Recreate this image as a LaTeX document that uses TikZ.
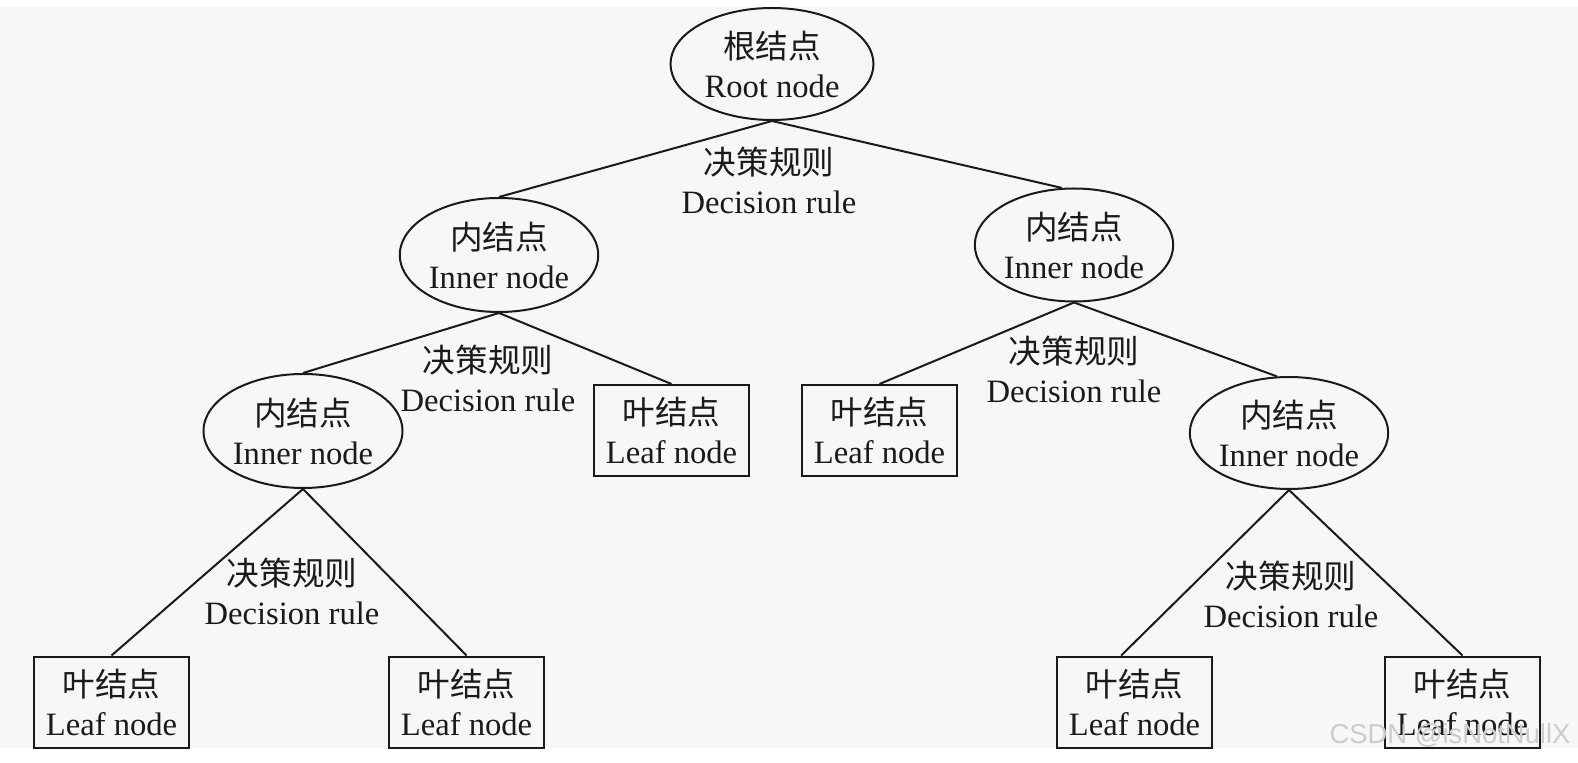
\documentclass[tikz,border=0pt]{standalone}
\usepackage{fontspec}
\setmainfont{Liberation Serif}
\newfontfamily\cjk{Noto Sans CJK SC}
\newfontfamily\wmfont{Liberation Sans}
\usetikzlibrary{shapes.geometric}
\definecolor{bgc}{HTML}{F7F7F7}
\definecolor{ink}{HTML}{1A1A1A}
\tikzset{
  txt/.style={text=ink,align=center,font=\fontsize{16.3}{19.5}\selectfont},
  innernode/.style={txt,ellipse,draw=ink,line width=1pt,inner sep=0pt},
  leafnode/.style={txt,rectangle,draw=ink,line width=1pt,inner sep=0pt,minimum width=77.5pt,minimum height=45.5pt},
  rulelabel/.style={txt,inner sep=0pt},
  edge/.style={draw=ink,line width=1pt}
}
\begin{document}
\begin{tikzpicture}[x=0.5pt,y=-0.5pt]
\useasboundingbox (0,0) rectangle (1578,763);
\fill[white] (0,0) rectangle (1578,763);
\fill[bgc] (0,7) rectangle (1578,748);

% inner / root nodes
\node[innernode,minimum width=101.5pt,minimum height=56pt] (root) at (772,64) {{\cjk 根结点}\\Root node};
\node[innernode,minimum width=99pt,minimum height=57pt] (iL) at (499,255) {{\cjk 内结点}\\Inner node};
\node[innernode,minimum width=98.5pt,minimum height=56.5pt] (iR) at (1074,245) {{\cjk 内结点}\\Inner node};
\node[innernode,minimum width=99.5pt,minimum height=57pt] (iLL) at (303,431) {{\cjk 内结点}\\Inner node};
\node[innernode,minimum width=98pt,minimum height=56pt] (iRR) at (1289,433) {{\cjk 内结点}\\Inner node};

% leaf nodes
\node[leafnode] (m1) at (671.5,430.5) {{\cjk 叶结点}\\Leaf node};
\node[leafnode] (m2) at (879.5,430.5) {{\cjk 叶结点}\\Leaf node};
\node[leafnode] (LL) at (111.5,702) {{\cjk 叶结点}\\Leaf node};
\node[leafnode] (LR) at (466.5,702) {{\cjk 叶结点}\\Leaf node};
\node[leafnode] (RL) at (1134.5,702) {{\cjk 叶结点}\\Leaf node};
\node[leafnode] (RR) at (1462.5,702) {{\cjk 叶结点}\\Leaf node};

% decision rule labels
\node[rulelabel] (d1) at (769,180) {{\cjk 决策规则}\\Decision rule};
\node[rulelabel] (d2) at (488,378) {{\cjk 决策规则}\\Decision rule};
\node[rulelabel] (d3) at (1074,369) {{\cjk 决策规则}\\Decision rule};
\node[rulelabel] (d4) at (292,591) {{\cjk 决策规则}\\Decision rule};
\node[rulelabel] (d5) at (1291,594) {{\cjk 决策规则}\\Decision rule};

% connectors
\draw[edge] (root.south) -- (iL.north);
\draw[edge] (root.south) -- (iR.102);
\draw[edge] (iL.south) -- (iLL.north);
\draw[edge] (iL.south) -- (m1.north);
\draw[edge] (iR.south) -- (m2.north);
\draw[edge] (iR.south) -- (iRR.102);
\draw[edge] (iLL.south) -- (LL.north);
\draw[edge] (iLL.south) -- (LR.north);
\draw[edge] (iRR.south) -- (RL.106);
\draw[edge] (iRR.south) -- (RR.north);

% watermark
\node[text=gray!40,inner sep=0pt,font=\wmfont\fontsize{13.7}{16}\selectfont] (wm) at (1450,735) {CSDN @isNotNullX};
\end{tikzpicture}
\end{document}
